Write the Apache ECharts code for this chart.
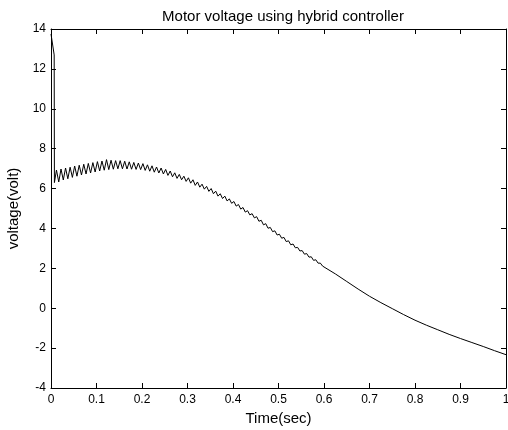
<!DOCTYPE html>
<html>
<head>
<meta charset="utf-8">
<script src="https://cdn.jsdelivr.net/npm/echarts@6/dist/echarts.min.js"></script>
<style>
html,body{margin:0;padding:0;background:#fff;}
#chart{width:508px;height:430px;}
</style>
</head>
<body>
<div id="chart"></div>
<script>
var chartTitle = 'Motor voltage using hybrid controller';
var xName = 'Time(sec)';
var yName = 'voltage(volt)';

var times = [
  0, 0.007, 0.0075,
  0.012, 0.017, 0.022, 0.027, 0.032, 0.037, 0.042, 0.047, 0.052, 0.057,
  0.062, 0.067, 0.072, 0.077, 0.082, 0.087, 0.092, 0.097, 0.102, 0.107,
  0.112, 0.117, 0.122, 0.127, 0.132, 0.137, 0.142, 0.147, 0.152, 0.157,
  0.162, 0.167, 0.172, 0.177, 0.182, 0.187, 0.192, 0.197, 0.202, 0.207,
  0.212, 0.217, 0.222, 0.227, 0.232, 0.237, 0.242, 0.247, 0.252, 0.257,
  0.262, 0.267, 0.272, 0.277, 0.282, 0.287, 0.292, 0.297, 0.302, 0.307,
  0.312, 0.317, 0.322, 0.327, 0.332, 0.337, 0.342, 0.347, 0.352, 0.357,
  0.362, 0.367, 0.372, 0.377, 0.382, 0.387, 0.392, 0.397, 0.402, 0.407,
  0.412, 0.417, 0.422, 0.427, 0.432, 0.437, 0.442, 0.447, 0.452, 0.457,
  0.462, 0.467, 0.472, 0.477, 0.482, 0.487, 0.492, 0.497, 0.502, 0.507,
  0.512, 0.517, 0.522, 0.527, 0.532, 0.537, 0.542, 0.547, 0.552, 0.557,
  0.562, 0.567, 0.572, 0.577, 0.582, 0.587, 0.592, 0.597,
  0.625, 0.65, 0.675, 0.7, 0.725, 0.75, 0.775, 0.8, 0.825, 0.85, 0.875, 0.9, 0.925, 0.95, 0.975, 1.0
];

var voltage = [
  13.75, 12.7, 6.3,
  6.93, 6.33, 6.98, 6.43, 7.03, 6.49, 7.07, 6.56, 7.13, 6.62,
  7.17, 6.68, 7.22, 6.73, 7.26, 6.78, 7.30, 6.83, 7.35, 6.88,
  7.38, 6.92, 7.45, 6.95, 7.42, 6.97, 7.40, 6.99, 7.40, 6.99,
  7.37, 6.98, 7.34, 6.97, 7.31, 6.96, 7.28, 6.95, 7.25, 6.91,
  7.19, 6.87, 7.14, 6.82, 7.08, 6.78, 7.03, 6.73, 6.96, 6.66,
  6.88, 6.59, 6.79, 6.51, 6.71, 6.44, 6.62, 6.36, 6.54, 6.27,
  6.44, 6.16, 6.33, 6.07, 6.22, 5.97, 6.11, 5.86, 6.00, 5.74,
  5.87, 5.62, 5.74, 5.50, 5.62, 5.38, 5.48, 5.26, 5.35, 5.12,
  5.20, 4.97, 5.05, 4.82, 4.89, 4.68, 4.74, 4.53, 4.59, 4.36,
  4.41, 4.18, 4.24, 4.01, 4.05, 3.84, 3.88, 3.67, 3.71, 3.51,
  3.55, 3.34, 3.38, 3.18, 3.22, 3.03, 3.05, 2.87, 2.89, 2.71,
  2.74, 2.56, 2.58, 2.40, 2.43, 2.26, 2.26, 2.11,
  1.72, 1.34, 0.96, 0.60, 0.28, -0.02, -0.32, -0.60, -0.85, -1.08, -1.31, -1.52, -1.72, -1.92, -2.13, -2.33
];

var xMin = 0, xMax = 1, xStep = 0.1;
var yMin = -4, yMax = 14, yStep = 2;

var seriesData = times.map(function (t, i) { return [t, voltage[i]]; });

var FONT = '"Liberation Sans", Arial, Helvetica, sans-serif';
var lineStyle = { color: '#000', width: 1 };

function xAxisCfg(pos, showLabel) {
  return {
    type: 'value', position: pos, min: xMin, max: xMax, interval: xStep,
    axisLine: { show: true, onZero: false, lineStyle: lineStyle },
    axisTick: { show: true, inside: true, length: 5, lineStyle: lineStyle },
    axisLabel: { show: showLabel, color: '#000', fontSize: 12, fontFamily: FONT, margin: 6 },
    splitLine: { show: false },
    name: showLabel ? xName : '',
    nameLocation: 'middle', nameGap: 22,
    nameTextStyle: { color: '#000', fontSize: 15, fontFamily: FONT }
  };
}
function yAxisCfg(pos, showLabel) {
  return {
    type: 'value', position: pos, min: yMin, max: yMax, interval: yStep,
    axisLine: { show: true, onZero: false, lineStyle: lineStyle },
    axisTick: { show: true, inside: true, length: 5, lineStyle: lineStyle },
    axisLabel: { show: showLabel, color: '#000', fontSize: 12, fontFamily: FONT, margin: 5 },
    splitLine: { show: false },
    name: showLabel ? yName : '',
    nameLocation: 'middle', nameGap: 25,
    nameTextStyle: { color: '#000', fontSize: 15, fontFamily: FONT }
  };
}

var chart = echarts.init(document.getElementById('chart'), null, { renderer: 'canvas' });
chart.setOption({
  backgroundColor: '#fff',
  animation: false,
  title: {
    text: chartTitle, left: 278, top: 4, textAlign: 'center',
    textStyle: { color: '#000', fontSize: 15, fontWeight: 'normal', fontFamily: FONT }
  },
  grid: { left: 51, right: 2, top: 29, bottom: 42, containLabel: false, outerBoundsMode: 'none' },
  xAxis: [xAxisCfg('bottom', true), xAxisCfg('top', false)],
  yAxis: [yAxisCfg('left', true), yAxisCfg('right', false)],
  series: [{
    type: 'line', xAxisIndex: 0, yAxisIndex: 0,
    data: seriesData, showSymbol: false, smooth: false,
    lineStyle: { color: '#000', width: 1 }
  }]
});
</script>
</body>
</html>
